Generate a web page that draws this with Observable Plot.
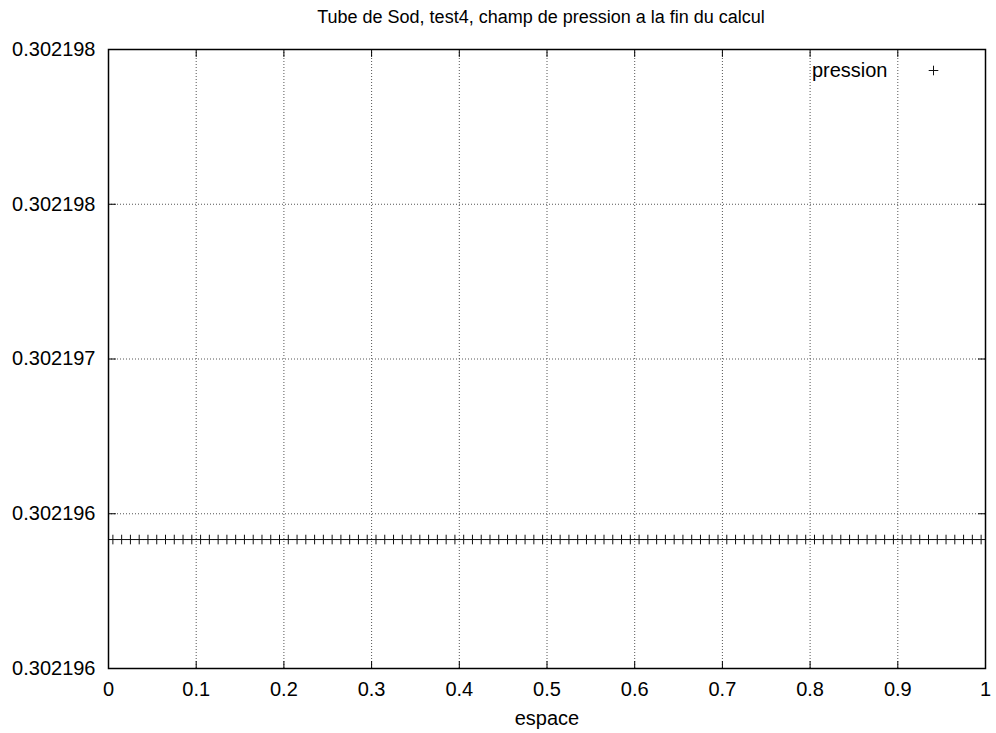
<!DOCTYPE html>
<html><head><meta charset="utf-8">
<script src="https://cdn.jsdelivr.net/npm/d3@7"></script>
<script src="https://cdn.jsdelivr.net/npm/@observablehq/plot@0.6"></script>
<style>body{margin:0;background:#fff}</style>
</head><body><div id="chart"></div>
<script>
const title = "Tube de Sod, test4, champ de pression a la fin du calcul";
const xLabel = "espace";
const seriesName = "pression";
const xTicks = [0, 0.1, 0.2, 0.3, 0.4, 0.5, 0.6, 0.7, 0.8, 0.9, 1];
const xTickLabels = ["0", "0.1", "0.2", "0.3", "0.4", "0.5", "0.6", "0.7", "0.8", "0.9", "1"];
const yTicks = [0.3021958, 0.3021964, 0.3021970, 0.3021976, 0.3021982];
const yTickLabels = ["0.302196", "0.302196", "0.302197", "0.302198", "0.302198"];
const espace = [
  0.005, 0.015, 0.025, 0.035, 0.045, 0.055, 0.065, 0.075, 0.085, 0.095,
  0.105, 0.115, 0.125, 0.135, 0.145, 0.155, 0.165, 0.175, 0.185, 0.195,
  0.205, 0.215, 0.225, 0.235, 0.245, 0.255, 0.265, 0.275, 0.285, 0.295,
  0.305, 0.315, 0.325, 0.335, 0.345, 0.355, 0.365, 0.375, 0.385, 0.395,
  0.405, 0.415, 0.425, 0.435, 0.445, 0.455, 0.465, 0.475, 0.485, 0.495,
  0.505, 0.515, 0.525, 0.535, 0.545, 0.555, 0.565, 0.575, 0.585, 0.595,
  0.605, 0.615, 0.625, 0.635, 0.645, 0.655, 0.665, 0.675, 0.685, 0.695,
  0.705, 0.715, 0.725, 0.735, 0.745, 0.755, 0.765, 0.775, 0.785, 0.795,
  0.805, 0.815, 0.825, 0.835, 0.845, 0.855, 0.865, 0.875, 0.885, 0.895,
  0.905, 0.915, 0.925, 0.935, 0.945, 0.955, 0.965, 0.975, 0.985, 0.995
];
const pression = [
  0.3021963, 0.3021963, 0.3021963, 0.3021963, 0.3021963, 0.3021963, 0.3021963, 0.3021963, 0.3021963, 0.3021963,
  0.3021963, 0.3021963, 0.3021963, 0.3021963, 0.3021963, 0.3021963, 0.3021963, 0.3021963, 0.3021963, 0.3021963,
  0.3021963, 0.3021963, 0.3021963, 0.3021963, 0.3021963, 0.3021963, 0.3021963, 0.3021963, 0.3021963, 0.3021963,
  0.3021963, 0.3021963, 0.3021963, 0.3021963, 0.3021963, 0.3021963, 0.3021963, 0.3021963, 0.3021963, 0.3021963,
  0.3021963, 0.3021963, 0.3021963, 0.3021963, 0.3021963, 0.3021963, 0.3021963, 0.3021963, 0.3021963, 0.3021963,
  0.3021963, 0.3021963, 0.3021963, 0.3021963, 0.3021963, 0.3021963, 0.3021963, 0.3021963, 0.3021963, 0.3021963,
  0.3021963, 0.3021963, 0.3021963, 0.3021963, 0.3021963, 0.3021963, 0.3021963, 0.3021963, 0.3021963, 0.3021963,
  0.3021963, 0.3021963, 0.3021963, 0.3021963, 0.3021963, 0.3021963, 0.3021963, 0.3021963, 0.3021963, 0.3021963,
  0.3021963, 0.3021963, 0.3021963, 0.3021963, 0.3021963, 0.3021963, 0.3021963, 0.3021963, 0.3021963, 0.3021963,
  0.3021963, 0.3021963, 0.3021963, 0.3021963, 0.3021963, 0.3021963, 0.3021963, 0.3021963, 0.3021963, 0.3021963
];

const data = espace.map((x, i) => ({x, p: pression[i]}));
const xLab = new Map(xTicks.map((v, i) => [v, xTickLabels[i]]));
const yLab = new Map(yTicks.map((v, i) => [v, yTickLabels[i]]));
const tickShape = {draw(ctx, l) { ctx.moveTo(0, 0); ctx.lineTo(0, -l); }};
const tk = {length: 7, anchor: "start", shape: tickShape, stroke: "black", strokeWidth: 1};
const grid = {stroke: "#555", strokeOpacity: 1, strokeDasharray: "1,2", strokeWidth: 1};

const chart = Plot.plot({
  width: 996,
  height: 733,
  marginLeft: 108,
  marginRight: 11,
  marginTop: 49,
  marginBottom: 65,
  style: {fontFamily: "'Liberation Sans', Arial, sans-serif", fontSize: "20px", color: "black", background: "white"},
  x: {domain: [0, 1]},
  y: {domain: [yTicks[0], yTicks[yTicks.length - 1]]},
  marks: [
    Plot.gridX(xTicks, grid),
    Plot.gridY(yTicks, grid),
    Plot.axisX(xTicks, {anchor: "bottom", tickSize: 0, tickPadding: 13, fontSize: 20, tickFormat: d => xLab.get(d), label: null}),
    Plot.axisY(yTicks, {anchor: "left", tickSize: 0, tickPadding: 13, fontSize: 20, tickFormat: d => yLab.get(d), label: null}),
    Plot.vectorX(xTicks, {...tk, frameAnchor: "bottom", rotate: 0}),
    Plot.vectorX(xTicks, {...tk, frameAnchor: "top", rotate: 180}),
    Plot.vectorY(yTicks, {...tk, frameAnchor: "left", rotate: 90}),
    Plot.vectorY(yTicks, {...tk, frameAnchor: "right", rotate: -90}),
    Plot.dot(data, {x: "x", y: "p", symbol: "plus", r: 3.2, stroke: "#111", strokeWidth: 1}),
    Plot.frame({stroke: "black", strokeWidth: 1.5}),
    Plot.text([title], {frameAnchor: "top", lineAnchor: "middle", dy: -32, dx: -6, fontSize: 18}),
    Plot.text([xLabel], {frameAnchor: "bottom", lineAnchor: "middle", dy: 50, fontSize: 20}),
    Plot.text([seriesName], {frameAnchor: "top-right", lineAnchor: "middle", dx: -98, dy: 21, textAnchor: "end", fontSize: 20}),
    Plot.dot([seriesName], {frameAnchor: "top-right", dx: -52, dy: 21, symbol: "plus", r: 3.2, stroke: "#111", strokeWidth: 1})
  ]
});
document.getElementById("chart").appendChild(chart);
</script>
</body></html>
